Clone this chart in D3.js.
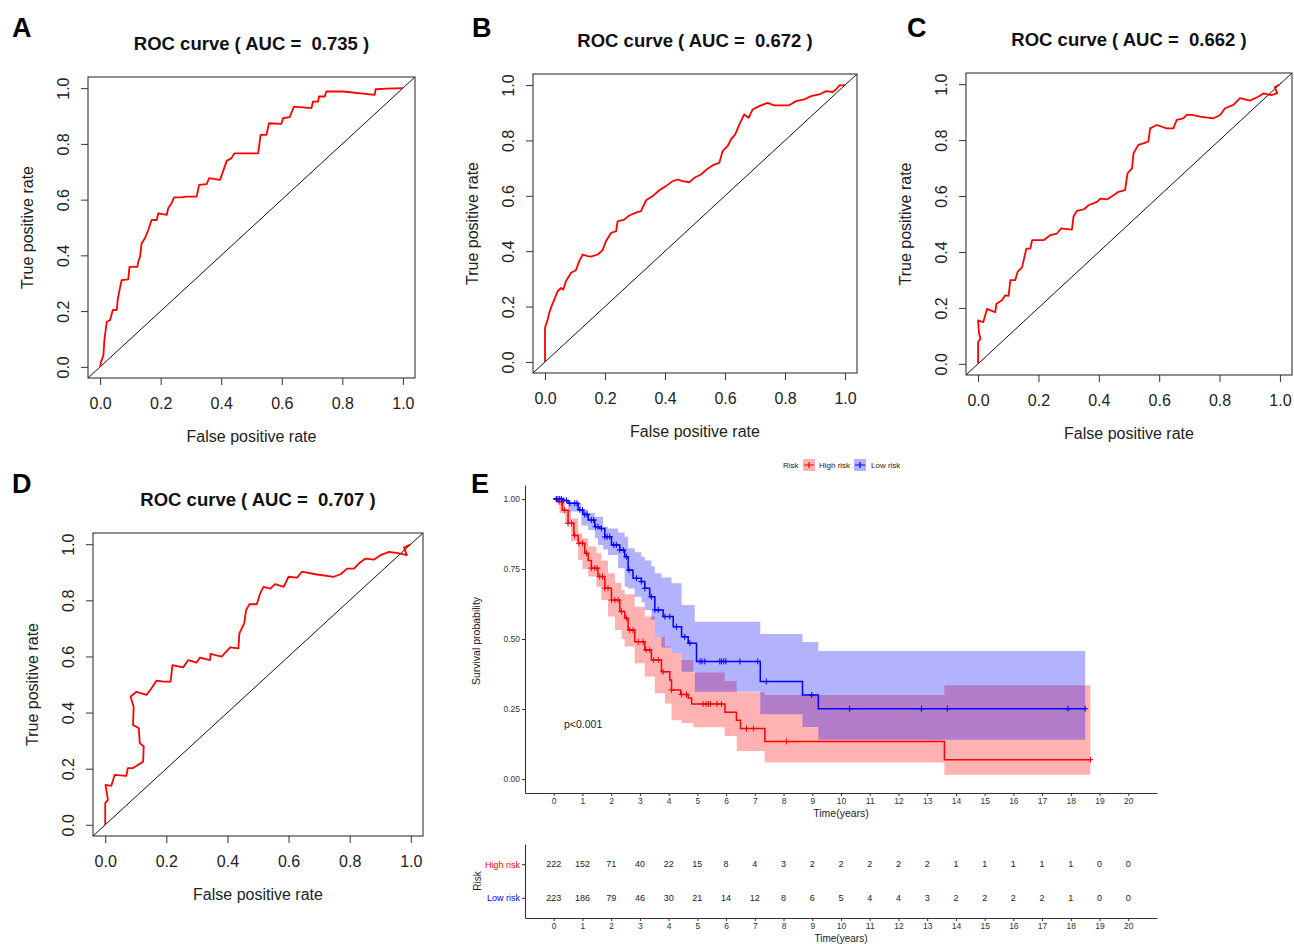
<!DOCTYPE html>
<html>
<head>
<meta charset="utf-8">
<script src="https://cdn.jsdelivr.net/npm/d3@7"></script>
<style>
  body { margin: 0; background: #fff; }
  svg { font-family: "Liberation Sans", Arial, Helvetica, sans-serif; }
</style>
</head>
<body>
<main></main>
<script>
// ---- ROC data: [false positive rate, true positive rate] ----
const rocA = [[0,0],[0.003,0.018],[0.011,0.042],[0.014,0.096],[0.022,0.162],[0.033,0.168],[0.042,0.204],[0.055,0.204],[0.058,0.240],[0.064,0.275],[0.071,0.311],[0.093,0.314],[0.097,0.359],[0.123,0.359],[0.126,0.377],[0.132,0.395],[0.137,0.443],[0.148,0.461],[0.159,0.491],[0.170,0.527],[0.187,0.527],[0.192,0.551],[0.220,0.545],[0.225,0.569],[0.236,0.587],[0.244,0.608],[0.269,0.608],[0.286,0.611],[0.319,0.611],[0.327,0.653],[0.352,0.656],[0.360,0.677],[0.396,0.671],[0.404,0.695],[0.418,0.739],[0.434,0.749],[0.443,0.766],[0.484,0.766],[0.522,0.766],[0.530,0.832],[0.549,0.832],[0.558,0.874],[0.599,0.872],[0.604,0.892],[0.626,0.896],[0.640,0.934],[0.698,0.928],[0.703,0.952],[0.720,0.952],[0.723,0.970],[0.742,0.970],[0.747,0.988],[0.802,0.988],[0.907,0.976],[0.910,0.996],[0.945,0.998],[1,1]];
const rocB = [[0,0],[0,0.123],[0.009,0.153],[0.014,0.177],[0.023,0.204],[0.031,0.225],[0.042,0.255],[0.053,0.267],[0.061,0.261],[0.070,0.292],[0.087,0.322],[0.103,0.331],[0.114,0.364],[0.126,0.388],[0.142,0.382],[0.153,0.380],[0.176,0.388],[0.192,0.404],[0.203,0.436],[0.220,0.466],[0.237,0.472],[0.242,0.508],[0.264,0.514],[0.281,0.529],[0.303,0.539],[0.320,0.545],[0.337,0.584],[0.359,0.599],[0.381,0.620],[0.403,0.635],[0.426,0.653],[0.442,0.659],[0.459,0.653],[0.481,0.649],[0.498,0.665],[0.520,0.677],[0.542,0.698],[0.564,0.713],[0.581,0.719],[0.592,0.761],[0.609,0.780],[0.620,0.804],[0.634,0.822],[0.648,0.858],[0.664,0.894],[0.679,0.882],[0.692,0.912],[0.714,0.924],[0.742,0.936],[0.764,0.927],[0.787,0.927],[0.814,0.927],[0.837,0.942],[0.864,0.948],[0.887,0.960],[0.914,0.966],[0.937,0.978],[0.959,0.975],[0.970,0.984],[0.981,0.999],[1,1]];
const rocC = [[0,0],[0,0.078],[0.008,0.090],[0.003,0.110],[0,0.155],[0.017,0.149],[0.030,0.197],[0.041,0.191],[0.057,0.185],[0.061,0.215],[0.079,0.227],[0.090,0.245],[0.101,0.243],[0.107,0.299],[0.123,0.299],[0.131,0.329],[0.146,0.346],[0.151,0.370],[0.160,0.412],[0.173,0.412],[0.179,0.442],[0.217,0.442],[0.239,0.460],[0.261,0.466],[0.275,0.484],[0.311,0.480],[0.316,0.526],[0.327,0.547],[0.350,0.552],[0.366,0.567],[0.394,0.579],[0.405,0.591],[0.427,0.588],[0.449,0.603],[0.465,0.615],[0.487,0.621],[0.491,0.651],[0.495,0.681],[0.510,0.699],[0.515,0.753],[0.531,0.783],[0.550,0.789],[0.564,0.795],[0.570,0.842],[0.592,0.854],[0.625,0.842],[0.647,0.842],[0.658,0.872],[0.680,0.878],[0.691,0.890],[0.708,0.890],[0.735,0.884],[0.780,0.878],[0.802,0.890],[0.818,0.914],[0.846,0.926],[0.868,0.950],[0.901,0.941],[0.928,0.955],[0.945,0.967],[0.972,0.961],[0.991,0.968],[0.983,0.989],[1,1]];
const rocD = [[0,0],[0,0.077],[0.009,0.089],[0.001,0.142],[0.020,0.139],[0.031,0.178],[0.069,0.174],[0.074,0.202],[0.091,0.202],[0.124,0.225],[0.126,0.279],[0.113,0.291],[0.110,0.344],[0.091,0.356],[0.093,0.421],[0.083,0.457],[0.102,0.474],[0.135,0.463],[0.151,0.486],[0.168,0.514],[0.190,0.510],[0.214,0.510],[0.220,0.569],[0.255,0.561],[0.272,0.587],[0.299,0.578],[0.310,0.596],[0.343,0.587],[0.345,0.609],[0.381,0.599],[0.409,0.632],[0.436,0.629],[0.439,0.682],[0.455,0.718],[0.461,0.765],[0.472,0.786],[0.496,0.786],[0.507,0.824],[0.518,0.848],[0.540,0.842],[0.556,0.858],[0.584,0.848],[0.600,0.884],[0.628,0.881],[0.644,0.902],[0.688,0.893],[0.748,0.884],[0.770,0.893],[0.792,0.913],[0.814,0.913],[0.830,0.931],[0.852,0.949],[0.879,0.945],[0.901,0.961],[0.929,0.973],[0.962,0.967],[0.987,0.961],[0.978,0.988],[1,1]];
const rocAuc = ["0.735", "0.672", "0.662", "0.707"];
const rocTicks = [0, 0.2, 0.4, 0.6, 0.8, 1.0];

// ---- Kaplan-Meier data ----
const riskGroups = ["High risk", "Low risk"];
const timeTicks = [0,1,2,3,4,5,6,7,8,9,10,11,12,13,14,15,16,17,18,19,20];
const survTicks = [0, 0.25, 0.5, 0.75, 1];
// [time, survival]
const highRiskSurv = [[0,1],[0.13,0.99],[0.3,0.96],[0.5,0.913],[0.7,0.87],[0.85,0.842],[1.08,0.806],[1.2,0.78],[1.31,0.753],[1.54,0.723],[1.78,0.681],[2.01,0.639],[2.3,0.598],[2.47,0.574],[2.59,0.532],[2.82,0.49],[3.17,0.461],[3.4,0.425],[3.75,0.383],[4.04,0.354],[4.1,0.318],[4.42,0.302],[4.68,0.289],[4.8,0.268],[5.96,0.238],[6.36,0.21],[6.5,0.18],[7.35,0.134],[13.6,0.069],[18.68,0.069]];
const lowRiskSurv = [[0,1],[0.3,0.995],[0.5,0.985],[0.85,0.961],[1.02,0.945],[1.2,0.925],[1.43,0.901],[1.6,0.895],[1.78,0.865],[2.01,0.836],[2.3,0.818],[2.47,0.794],[2.59,0.746],[2.76,0.717],[3.05,0.705],[3.17,0.681],[3.34,0.651],[3.52,0.604],[3.81,0.58],[4.16,0.544],[4.45,0.508],[4.68,0.485],[4.97,0.42],[7.19,0.348],[8.66,0.30],[9.21,0.251],[18.5,0.251]];
// [time, upper, lower]
const highRiskBand = [[0,1,1],[0.2,0.985,0.95],[0.4,0.96,0.91],[0.6,0.93,0.85],[0.85,0.877,0.782],[1.0,0.86,0.75],[1.2,0.83,0.723],[1.49,0.806,0.687],[1.66,0.78,0.639],[1.89,0.735,0.58],[2.13,0.70,0.532],[2.36,0.675,0.50],[2.47,0.66,0.473],[2.82,0.615,0.413],[3.17,0.58,0.366],[3.52,0.508,0.306],[3.87,0.473,0.27],[4.1,0.45,0.21],[4.45,0.425,0.20],[4.86,0.38,0.185],[5.95,0.35,0.154],[6.37,0.31,0.10],[7.34,0.30,0.059],[13.6,0.335,0.015],[18.68,0.335,0.015]];
const lowRiskBand = [[0,1,1],[0.5,0.985,0.955],[0.96,0.961,0.905],[1.2,0.95,0.889],[1.43,0.937,0.86],[1.54,0.937,0.836],[1.72,0.901,0.82],[1.89,0.895,0.80],[2.24,0.88,0.753],[2.47,0.865,0.687],[2.59,0.824,0.68],[2.82,0.81,0.651],[3.05,0.794,0.63],[3.17,0.78,0.604],[3.4,0.76,0.568],[3.52,0.735,0.508],[3.75,0.72,0.47],[4.1,0.699,0.45],[4.45,0.621,0.383],[4.91,0.562,0.312],[7.19,0.518,0.231],[8.66,0.489,0.186],[9.21,0.457,0.14],[18.5,0.457,0.14]];
const highRiskCensor = [0.09,0.19,0.27,0.38,0.5,0.62,0.73,0.88,1.0,1.14,1.31,1.43,1.51,1.6,1.7,1.78,1.89,2.01,2.13,2.24,2.36,2.53,2.65,2.76,2.94,3.11,3.21,3.34,3.48,3.64,3.81,4.1,4.45,4.62,5.2,5.3,5.38,5.45,5.68,5.84,6.71,6.95,8.1,18.68];
const lowRiskCensor = [0.09,0.15,0.21,0.27,0.35,0.44,0.56,0.73,0.81,0.91,1.0,1.08,1.16,1.31,1.39,1.46,1.54,1.66,1.78,1.86,1.95,2.09,2.18,2.3,2.42,2.53,2.62,2.88,3.05,3.17,3.4,3.52,3.64,3.87,4.04,4.27,4.56,4.74,5.09,5.16,5.26,5.78,5.84,5.92,5.99,6.48,7.1,7.4,8.98,10.3,12.8,13.7,17.9,18.5];
const highRiskAtRisk = [222,152,71,40,22,15,8,4,3,2,2,2,2,2,1,1,1,1,1,0,0];
const lowRiskAtRisk = [223,186,79,46,30,21,14,12,8,6,5,4,4,3,2,2,2,2,1,0,0];

const W = 1294, H = 944;
const svg = d3.select('main').append('svg').attr('width', W).attr('height', H);

const RED = '#FF0000', BLUE = '#0000FF', AXIS = '#333';

/**
 * Draw one base-R style ROC panel
 */
function draw_roc(letter, letterPos, box, data, auc) {
  const x = d3.scaleLinear().domain([-0.04, 1.04]).range([box.left, box.right]);
  const y = d3.scaleLinear().domain([-0.04, 1.04]).range([box.bottom, box.top]);
  const g = svg.append('g');

  g.append('text').attr('x', letterPos[0]).attr('y', letterPos[1])
    .attr('font-size', 27).attr('font-weight', 'bold').text(letter);

  g.append('text').attr('x', (box.left + box.right) / 2).attr('y', box.top - 27.5)
    .attr('text-anchor', 'middle').attr('font-size', 18.5).attr('font-weight', 'bold')
    .attr('fill', '#111').style('white-space', 'pre')
    .text('ROC curve ( AUC =  ' + auc + ' )');

  const clipId = 'clip' + letter;
  g.append('clipPath').attr('id', clipId).append('rect')
    .attr('x', box.left).attr('y', box.top)
    .attr('width', box.right - box.left).attr('height', box.bottom - box.top);

  g.append('line').attr('clip-path', 'url(#' + clipId + ')')
    .attr('x1', x(-0.04)).attr('y1', y(-0.04)).attr('x2', x(1.04)).attr('y2', y(1.04))
    .attr('stroke', '#111').attr('stroke-width', 1);

  g.append('path').datum(data)
    .attr('fill', 'none').attr('stroke', RED).attr('stroke-width', 1.8)
    .attr('stroke-linejoin', 'round')
    .attr('d', d3.line().x(d => x(d[0])).y(d => y(d[1])));

  const xa = g.append('g').attr('transform', 'translate(0,' + box.bottom + ')')
    .call(d3.axisBottom(x).tickValues(rocTicks).tickFormat(d3.format('.1f'))
      .tickSize(7).tickSizeOuter(0).tickPadding(13));
  const ya = g.append('g').attr('transform', 'translate(' + box.left + ',0)')
    .call(d3.axisLeft(y).tickValues(rocTicks).tickFormat(d3.format('.1f'))
      .tickSize(7).tickSizeOuter(0));
  ya.selectAll('.tick text')
    .attr('x', null).attr('dy', null).attr('text-anchor', 'middle')
    .attr('transform', 'translate(-19,0) rotate(-90)');
  [xa, ya].forEach(a => {
    a.select('.domain').remove();
    a.selectAll('.tick line').attr('stroke', AXIS);
    a.selectAll('.tick text').attr('font-size', 16).attr('fill', '#222')
      .attr('font-family', null);
  });

  g.append('rect').attr('x', box.left).attr('y', box.top)
    .attr('width', box.right - box.left).attr('height', box.bottom - box.top)
    .attr('fill', 'none').attr('stroke', AXIS).attr('stroke-width', 1.1);

  g.append('text').attr('x', (box.left + box.right) / 2).attr('y', box.bottom + 63.5)
    .attr('text-anchor', 'middle').attr('font-size', 16).attr('fill', '#222')
    .text('False positive rate');
  g.append('text')
    .attr('transform', 'translate(' + (box.left - 55.5) + ',' + ((box.top + box.bottom) / 2) + ') rotate(-90)')
    .attr('text-anchor', 'middle').attr('font-size', 16).attr('fill', '#222')
    .text('True positive rate');
}

draw_roc('A', [12, 37], {left: 88, right: 415, top: 77, bottom: 378}, rocA, rocAuc[0]);
draw_roc('B', [472, 37], {left: 533, right: 857, top: 74, bottom: 373}, rocB, rocAuc[1]);
draw_roc('C', [907, 37], {left: 966, right: 1292, top: 73, bottom: 375}, rocC, rocAuc[2]);
draw_roc('D', [12, 493], {left: 93, right: 423, top: 533, bottom: 836}, rocD, rocAuc[3]);

/**
 * Kaplan-Meier panel with confidence bands and risk table
 */
function draw_km() {
  const g = svg.append('g');
  const x = d3.scaleLinear().domain([-1, 21]).range([525, 1157]);
  const y = d3.scaleLinear().domain([-0.05, 1.05]).range([793, 485]);

  g.append('text').attr('x', 471).attr('y', 493)
    .attr('font-size', 27).attr('font-weight', 'bold').text('E');

  const groups = [
    {name: riskGroups[0], color: RED, surv: highRiskSurv, band: highRiskBand, censor: highRiskCensor, atRisk: highRiskAtRisk},
    {name: riskGroups[1], color: BLUE, surv: lowRiskSurv, band: lowRiskBand, censor: lowRiskCensor, atRisk: lowRiskAtRisk}
  ];

  const area = d3.area().curve(d3.curveStepAfter)
    .x(d => x(d[0])).y0(d => y(d[2])).y1(d => y(d[1]));
  const line = d3.line().curve(d3.curveStepAfter)
    .x(d => x(d[0])).y(d => y(d[1]));

  groups.forEach(gr => {
    g.append('path').datum(gr.band)
      .attr('fill', gr.color).attr('fill-opacity', 0.3).attr('d', area);
  });

  groups.forEach(gr => {
    g.append('path').datum(gr.surv)
      .attr('fill', 'none').attr('stroke', gr.color).attr('stroke-width', 1.5)
      .attr('d', line);
    const survAt = t => {
      let s = 1;
      gr.surv.forEach(d => { if (d[0] <= t) s = d[1]; });
      return s;
    };
    g.append('g').selectAll('path').data(gr.censor).enter().append('path')
      .attr('d', d => {
        const cx = x(d), cy = y(survAt(d));
        return 'M' + (cx - 3) + ',' + cy + 'H' + (cx + 3) + 'M' + cx + ',' + (cy - 3) + 'V' + (cy + 3);
      })
      .attr('stroke', gr.color).attr('stroke-width', 1);
  });

  const ya = g.append('g').attr('transform', 'translate(525,0)')
    .call(d3.axisLeft(y).tickValues(survTicks).tickFormat(d3.format('.2f'))
      .tickSize(3).tickSizeOuter(0).tickPadding(2));
  const xa = g.append('g').attr('transform', 'translate(0,793)')
    .call(d3.axisBottom(x).tickValues(timeTicks).tickSize(3).tickSizeOuter(0).tickPadding(2));
  [xa, ya].forEach(a => {
    a.select('.domain').attr('stroke', AXIS).attr('stroke-width', 1.1);
    a.selectAll('.tick line').attr('stroke', AXIS);
    a.selectAll('.tick text').attr('font-size', 8.5).attr('fill', '#333').attr('font-family', null);
  });

  g.append('text').attr('x', 841).attr('y', 817).attr('text-anchor', 'middle')
    .attr('font-size', 10.5).attr('fill', '#222').text('Time(years)');
  g.append('text').attr('transform', 'translate(480,641) rotate(-90)')
    .attr('text-anchor', 'middle').attr('font-size', 10.5).attr('fill', '#222')
    .text('Survival probability');
  g.append('text').attr('x', 564).attr('y', 728)
    .attr('font-size', 10.5).attr('fill', '#222').text('p<0.001');

  // legend
  const lg = g.append('g').attr('font-size', 8).attr('fill', '#222');
  lg.append('text').attr('x', 783).attr('y', 468).text('Risk');
  const keys = [{x: 803, tx: 819}, {x: 854, tx: 871}];
  groups.forEach((gr, i) => {
    const k = keys[i];
    lg.append('rect').attr('x', k.x).attr('y', 459).attr('width', 12).attr('height', 12)
      .attr('fill', gr.color).attr('fill-opacity', 0.3);
    lg.append('path')
      .attr('d', 'M' + (k.x + 1) + ',465H' + (k.x + 11) + 'M' + (k.x + 6) + ',462V468')
      .attr('stroke', gr.color).attr('stroke-width', 1.2);
    lg.append('text').attr('x', k.tx).attr('y', 468).text(gr.name);
  });

  // risk table
  const ry = d3.scalePoint().domain(riskGroups).range([844, 918]).padding(0.6);
  const ta = g.append('g').attr('transform', 'translate(0,918)')
    .call(d3.axisBottom(x).tickValues(timeTicks).tickSize(3).tickSizeOuter(0).tickPadding(2));
  const tya = g.append('g').attr('transform', 'translate(525,0)')
    .call(d3.axisLeft(ry).tickSize(3).tickSizeOuter(0).tickPadding(2));
  ta.select('.domain').attr('stroke', AXIS).attr('stroke-width', 1.1);
  ta.selectAll('.tick line').attr('stroke', AXIS);
  ta.selectAll('.tick text').attr('font-size', 8.5).attr('fill', '#333').attr('font-family', null);
  tya.select('.domain').attr('stroke', AXIS).attr('stroke-width', 1.1);
  tya.selectAll('.tick line').attr('stroke', AXIS);
  tya.selectAll('.tick text').attr('font-size', 9).attr('font-family', null)
    .attr('fill', (d, i) => groups[i].color);

  groups.forEach(gr => {
    g.append('g').selectAll('text').data(gr.atRisk).enter().append('text')
      .attr('x', (d, i) => x(timeTicks[i])).attr('y', ry(gr.name))
      .attr('dy', '0.35em').attr('text-anchor', 'middle')
      .attr('font-size', 9).attr('fill', '#222').text(d => d);
  });

  g.append('text').attr('x', 841).attr('y', 942).attr('text-anchor', 'middle')
    .attr('font-size', 10).attr('fill', '#222').text('Time(years)');
  g.append('text').attr('transform', 'translate(481,881) rotate(-90)')
    .attr('text-anchor', 'middle').attr('font-size', 10).attr('fill', '#222').text('Risk');
}

draw_km();
</script>
</body>
</html>
